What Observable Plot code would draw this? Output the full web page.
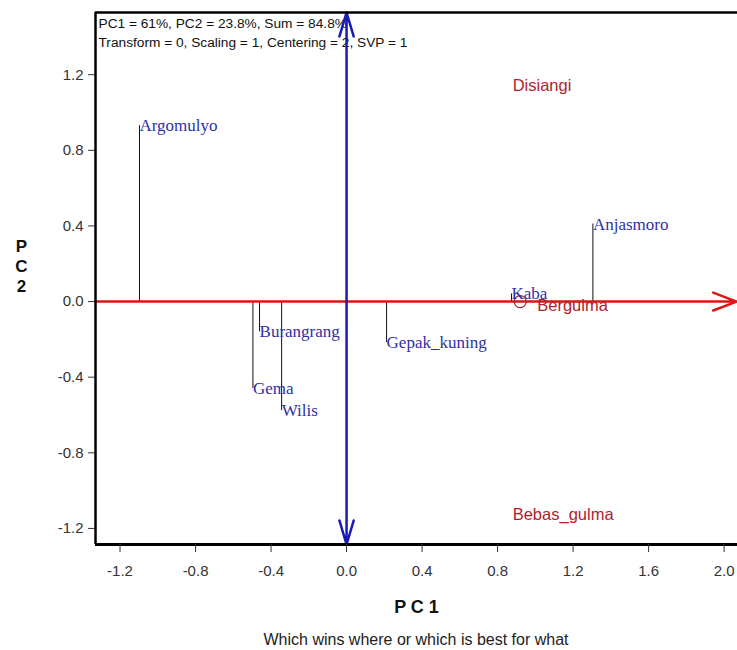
<!DOCTYPE html>
<html><head><meta charset="utf-8">
<script src="https://cdn.jsdelivr.net/npm/d3@7"></script>
<script src="https://cdn.jsdelivr.net/npm/@observablehq/plot@0.6"></script>
<style>
body{margin:0;background:#fff;}
#wrap{position:relative;width:737px;height:650px;overflow:hidden;font-family:Arial,"Liberation Sans",sans-serif;}
#caption{position:absolute;left:95px;width:642px;top:630px;text-align:center;font-size:16px;color:#222;line-height:19px;}
</style></head><body><div id="wrap"><div id="chart"></div><div id="caption">Which wins where or which is best for what</div></div>
<script>
// Genotypes (blue labels) with PC1 / PC2 scores
const genotypes = ["Argomulyo","Burangrang","Gema","Wilis","Gepak_kuning","Kaba","Anjasmoro"];
const genoPC1 = [-1.097,-0.461,-0.496,-0.344,0.212,0.874,1.305];
const genoPC2 = [0.93,-0.16,-0.46,-0.577,-0.217,0.04,0.41];
// Environments (red labels)
const environments = ["Disiangi","Bergulma","Bebas_gulma"];
const envPC1 = [0.88,1.01,0.88];
const envPC2 = [1.14,-0.02,-1.13];
// Average environment marker
const markerPC1 = [0.92];
const markerPC2 = [0.0];
// Axes
const xDomain = [-1.33, 2.071];
const yDomain = [-1.285, 1.529];
const xTicks = [-1.2,-0.8,-0.4,0,0.4,0.8,1.2,1.6,2.0];
const yTicks = [-1.2,-0.8,-0.4,0,0.4,0.8,1.2];
const headerLines = ["PC1 = 61%, PC2 = 23.8%, Sum = 84.8%","Transform = 0, Scaling = 1, Centering = 2, SVP = 1"];
const xLabel = "P C 1";
const yLabel = "P\nC\n2";

const geno = genotypes.map((n,i)=>({name:n, pc1:genoPC1[i], pc2:genoPC2[i]}));
const env = environments.map((n,i)=>({name:n, pc1:envPC1[i], pc2:envPC2[i]}));
const marker = markerPC1.map((v,i)=>({pc1:v, pc2:markerPC2[i]}));
const vertArrows = [{x1:0,y1:0,x2:0,y2:yDomain[1]},{x1:0,y1:0,x2:0,y2:yDomain[0]}];
const horizArrow = [{x1:xDomain[0],y1:0,x2:xDomain[1]-0.005,y2:0}];
const fmt = d => d.toFixed(1);

const chart = Plot.plot({
  width: 737, height: 620,
  marginLeft: 95, marginRight: 0, marginTop: 12, marginBottom: 76,
  style: {fontFamily: "Arial, 'Liberation Sans', sans-serif", background: "#fff"},
  x: {domain: xDomain, axis: null},
  y: {domain: yDomain, axis: null},
  marks: [
    Plot.text([headerLines.join("\n")], {frameAnchor:"top-left", textAnchor:"start", lineAnchor:"top", dx:3, dy:1, fontSize:13.7, lineHeight:1.45, fill:"#111"}),
    Plot.ruleX(geno, {x:"pc1", y1:0, y2:"pc2", stroke:"#111", strokeWidth:1}),
    Plot.arrow(horizArrow, {x1:"x1", y1:"y1", x2:"x2", y2:"y2", stroke:"#dd1515", strokeWidth:2.5, headLength:15, headAngle:42}),
    Plot.arrow(vertArrows, {x1:"x1", y1:"y1", x2:"x2", y2:"y2", stroke:"#1a1ab4", strokeWidth:2.5, headLength:15, headAngle:33}),
    Plot.dot(marker, {x:"pc1", y:"pc2", r:6, stroke:"#a02830", strokeWidth:1.2, fill:"none"}),
    Plot.text(geno, {x:"pc1", y:"pc2", text:"name", textAnchor:"start", lineAnchor:"middle", fontFamily:"'Liberation Serif', 'DejaVu Serif', serif", fontSize:17, fill:"#2f2fa8"}),
    Plot.text(env, {x:"pc1", y:"pc2", text:"name", textAnchor:"start", lineAnchor:"middle", fontSize:16.5, fill:"#b0222c"}),
    Plot.ruleX([xDomain[0]], {stroke:"#000", strokeWidth:2.5}),
    Plot.ruleY([yDomain[0]], {stroke:"#000", strokeWidth:3}),
    Plot.ruleY([yDomain[1]], {stroke:"#000", strokeWidth:2.5}),
    Plot.axisY(yTicks, {tickSize:7, tickPadding:5, fontSize:15, tickFormat:fmt, label:null, stroke:"#333", fill:"#333"}),
    Plot.axisX(xTicks, {tickSize:8, tickPadding:13, fontSize:15, tickFormat:fmt, label:null, stroke:"#333", fill:"#333"}),
    Plot.text([xLabel], {frameAnchor:"bottom", textAnchor:"middle", lineAnchor:"middle", dy:63, fontSize:18, fontWeight:"bold", fill:"#111"}),
    Plot.text([yLabel], {frameAnchor:"left", textAnchor:"middle", lineAnchor:"middle", dx:-74, dy:-13, fontSize:17, fontWeight:"bold", lineHeight:1.2, fill:"#111"})
  ]
});
document.getElementById("chart").appendChild(chart);
</script></body></html>
